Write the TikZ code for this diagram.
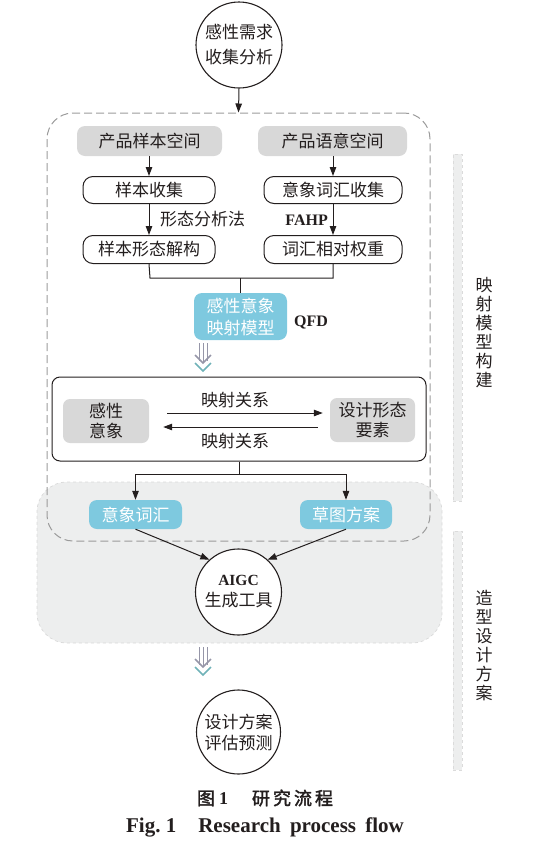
\documentclass[tikz,border=0pt]{standalone}
\usepackage{fontspec}
\setmainfont{Liberation Serif}
\newfontfamily\cjk{Noto Sans CJK SC}[AutoFakeBold=2]
\usetikzlibrary{arrows.meta}
\definecolor{boxgray}{RGB}{216,216,216}
\definecolor{mapblue}{RGB}{126,201,223}
\definecolor{regiongray}{RGB}{237,238,238}
\definecolor{dashgray}{RGB}{155,155,155}
\definecolor{arrgray}{RGB}{150,150,168}
\definecolor{arrteal}{RGB}{112,178,184}
\definecolor{ink}{RGB}{35,30,30}
\begin{document}
\begin{tikzpicture}[x=1pt,y=-1pt,
  every node/.style={text=ink},
  cn/.style={font=\cjk\fontsize{17}{20}\selectfont},
  conn/.style={draw=ink, line width=1pt},
  arr/.style={conn, -{Triangle[length=9pt,width=6.5pt]}},
  circ/.style={circle, draw=ink, line width=1.1pt, minimum size=86pt, inner sep=0pt, align=center},
  spacebox/.style={cn, fill=boxgray, rounded corners=8pt, minimum height=30pt, inner sep=0pt},
  stepbox/.style={cn, draw=ink, line width=1pt, rounded corners=10pt, minimum height=27pt, inner sep=0pt},
  bluebox/.style={cn, fill=mapblue, text=white, rounded corners=8pt, inner sep=0pt, align=center},
  graybox/.style={cn, fill=boxgray, rounded corners=7pt, inner sep=0pt, align=center},
  lat/.style={font=\fontsize{16}{18}\selectfont\bfseries},
  sidebar/.style={fill=regiongray, draw=black!14, dashed, line width=0.6pt, minimum width=9pt, inner sep=0pt},
  vtext/.style={font=\cjk\fontsize{17}{19}\selectfont, align=center, inner sep=0pt},
  dblarr/.pic={
    \draw[arrgray, line width=0.8pt] (-4,0) -- (-4,18) (0,0) -- (0,20) (4,0) -- (4,18);
    \draw[arrgray, line width=1.5pt] (-8,12) -- (0,20) -- (8,12);
    \draw[arrteal, line width=1.5pt] (-8,20) -- (0,28) -- (8,20);
  }
]
\useasboundingbox (0,0) rectangle (538,852);

% background region (造型设计方案)
\node[fill=regiongray, draw=black!15, dashed, line width=0.7pt, rounded corners=30pt,
      minimum width=405pt, minimum height=161pt, inner sep=0pt] (reg) at (239.5,562.5) {};
% dashed region (映射模型构建)
\node[draw=dashgray, dash pattern=on 8pt off 4pt, line width=1pt, rounded corners=26pt,
      minimum width=383pt, minimum height=428pt, inner sep=0pt] (box1) at (238.5,327) {};

% side bars and labels
\node[sidebar, minimum height=347pt] (bar1) at (457.5,327.5) {};
\node[sidebar, minimum height=239pt] (bar2) at (457.5,650.5) {};
\node[vtext] (t1) at (484,333) {映\\射\\模\\型\\构\\建};
\node[vtext] (t2) at (484,646) {造\\型\\设\\计\\方\\案};

% top circle
\node[circ, font=\cjk\fontsize{17}{25}\selectfont] (c1) at (239,45) {感性需求\\收集分析};
\draw[arr] (c1.south) -- (box1.north);

% spaces
\node[spacebox, minimum width=145pt] (ps) at (149.5,141) {产品样本空间};
\node[spacebox, minimum width=149pt] (pl) at (332.5,141) {产品语意空间};
\node[stepbox, minimum width=132pt] (s1) at (149,190) {样本收集};
\node[stepbox, minimum width=138pt] (l1) at (333,190) {意象词汇收集};
\node[stepbox, minimum width=132pt, minimum height=28pt] (s2) at (149,249.5) {样本形态解构};
\node[stepbox, minimum width=138pt, minimum height=28pt] (l2) at (333,249.5) {词汇相对权重};

\draw[arr] (ps.south -| s1.north) -- (s1.north);
\draw[arr] (pl.south -| l1.north) -- (l1.north);
\draw[arr] (s1.south) -- (s2.north);
\draw[arr] (l1.south) -- (l2.north);
\node[cn, anchor=west, inner sep=0pt] (lab1) at (160,219) {形态分析法};
\node[lat, anchor=east, inner sep=0pt] (lab2) at (328,220) {FAHP};

% mapping model
\node[bluebox, minimum width=93pt, minimum height=47pt, font=\cjk\fontsize{17}{22}\selectfont] (m) at (240.5,316.5) {感性意象\\映射模型};
\node[lat, inner sep=0pt] (qfd) at (311,322) {QFD};
\coordinate (jl) at (150,278);
\coordinate (jr) at (333,278);
\draw[conn] (s2.south) -- (jl) -- (jr) -- (l2.south);
\draw[conn] (m.north |- jl) -- (m.north);

\pic at (203,343) {dblarr};

% relation box
\node[draw=ink, line width=1pt, rounded corners=8pt, minimum width=374pt, minimum height=84pt, inner sep=0pt] (rel) at (239,419) {};
\node[graybox, minimum width=86pt, minimum height=44pt] (g1) at (106,421) {感性\\意象};
\node[graybox, minimum width=85pt, minimum height=44pt] (g2) at (372.5,420) {设计形态\\要素};
\coordinate (ya) at (0,413);
\coordinate (yb) at (0,427);
\draw[arr, shorten <=18pt, shorten >=7pt] (g1.east |- ya) -- (g2.west |- ya);
\draw[arr, shorten <=12pt, shorten >=14pt] (g2.west |- yb) -- (g1.east |- yb);
\node[cn, inner sep=0pt] (r1) at (235,400) {映射关系};
\node[cn, inner sep=0pt] (r2) at (235,441) {映射关系};

% outputs
\node[bluebox, minimum width=93pt, minimum height=29pt] (b1) at (135.5,514.5) {意象词汇};
\node[bluebox, minimum width=92pt, minimum height=29pt] (b2) at (346,514.5) {草图方案};
\coordinate (k) at (239,474);
\draw[conn] (rel.south) -- (k);
\draw[arr] (k) -| (b1.north);
\draw[arr] (k) -| (b2.north);

% AIGC
\node[circ, fill=white, font=\cjk\fontsize{17}{21}\selectfont] (c2) at (238.5,592) {{\rmfamily\bfseries\fontsize{15.5}{21}\selectfont AIGC}\\生成工具};
\draw[arr] (b1.south) -- (c2.132);
\draw[arr] (b2.south) -- (c2.48);

\pic at (203,647) {dblarr};

% evaluation
\node[circ, minimum size=84pt, font=\cjk\fontsize{17}{21}\selectfont] (c3) at (238.5,732) {设计方案\\评估预测};

% caption
\node[inner sep=0pt, font=\fontsize{18}{20}\selectfont\bfseries] (cap1) at (265,798)
  {{\cjk\bfseries 图}\hspace{4pt}1\hspace{24pt}{\cjk\bfseries 研\hspace{3pt}究\hspace{3pt}流\hspace{3pt}程}};
\node[inner sep=0pt, font=\fontsize{21}{23}\selectfont\bfseries] (cap2) at (265,827)
  {Fig.\ 1\hspace{22pt}Research\hspace{4pt} process\hspace{4pt} flow};
\end{tikzpicture}
\end{document}
